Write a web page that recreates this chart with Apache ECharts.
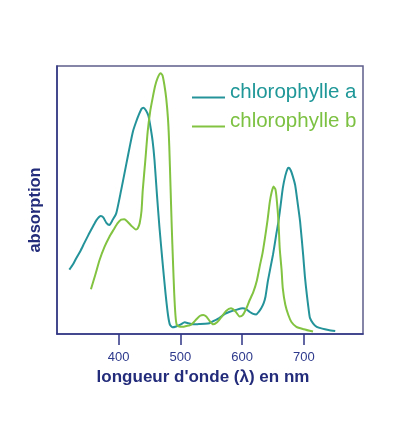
<!DOCTYPE html>
<html>
<head>
<meta charset="utf-8">
<script src="https://cdn.jsdelivr.net/npm/echarts@6/dist/echarts.min.js"></script>
<style>
  html, body { margin: 0; padding: 0; background: #fff; }
  #chart { width: 400px; height: 426px; }
</style>
</head>
<body>
<div id="chart"></div>
<script>
// wavelength (nm) / absorption (relative, 0-100)
const chlAWavelengths = [320, 326, 331, 338, 344, 351, 358, 364, 371, 375, 380, 385, 390, 396, 404, 412, 418, 423, 428, 433, 437, 440, 444, 448, 451, 455, 458, 462, 466, 471, 476, 480, 483, 487, 493, 500, 507, 513, 520, 530, 540, 547, 555, 563, 572, 580, 590, 601, 607, 612, 618, 623, 627, 631, 635, 638, 642, 650, 656, 659, 663, 666, 670, 674, 676, 679, 682, 686, 690, 694, 699, 702, 705, 708, 710, 715, 721, 730, 740, 751]
const chlAValues = [24, 26, 28.2, 31, 33.8, 37, 40, 42.5, 44, 43.5, 41.5, 40.7, 42.5, 45, 53.7, 63, 70, 75.5, 79, 82, 84, 84.4, 83.5, 81.5, 78, 72, 65, 52, 40, 27, 15, 7, 3.5, 2.5, 2.8, 3.5, 4.4, 4, 3.6, 3.7, 3.8, 4, 5, 5.9, 7.5, 8.3, 9, 9.6, 9.2, 8.3, 7.5, 7.3, 8.3, 9.6, 11.5, 14, 20, 29.5, 38, 42, 49, 54.4, 59, 61.8, 62, 61, 59, 55.6, 49, 42, 29.5, 21, 14.6, 9, 6, 4, 2.7, 2, 1.5, 1.1]

const chlBWavelengths = [355, 362, 369, 377, 385, 392, 398, 404, 409, 414, 420, 428, 431, 434, 437, 439, 443, 447, 451, 455, 459, 463, 468, 471, 474, 477, 480, 482, 484, 486, 488, 490, 492, 494, 498, 504, 510, 515, 520, 526, 532, 537, 542, 547, 553, 560, 567, 574, 582, 589, 596, 601, 607, 612, 618, 624, 629, 633, 637, 641, 645, 648, 651, 654, 656, 659, 661, 664, 666, 670, 675, 680, 688, 700, 715]
const chlBValues = [16.7, 22, 27.6, 32.5, 36.3, 39, 41.3, 42.7, 42.8, 42, 40.5, 39, 39.5, 41.3, 46, 53.7, 64.3, 75.5, 83, 88, 92.5, 95.5, 97.3, 96.5, 93, 88, 80, 70, 55, 40, 27, 15.2, 7, 3.5, 2.8, 2.7, 3, 3.2, 4, 5.5, 6.8, 7.1, 6.5, 5, 3.6, 4.5, 6.5, 8.6, 9.6, 8.5, 6.5, 7, 9.6, 12.5, 15.5, 20, 25.7, 30, 35.7, 42, 49.4, 53, 55, 54, 50.6, 42, 32, 24, 17, 11, 7.1, 4.5, 2.7, 1.8, 0.9]

const xTickValues = [400, 500, 600, 700]
const seriesNames = ['chlorophylle a', 'chlorophylle b']

const colorA = '#24939a'
const colorB = '#82c341'
const navy = '#2f3585'

const zip = (xs, ys) => xs.map((x, i) => [x, ys[i]])

// legend swatch: a line sitting below the text middle (tiny invisible dot keeps the top of the box)
const legendIcon = 'path://M0,0H0.01V0.01H0Z M0,10H33V12H0Z'

const chart = echarts.init(document.getElementById('chart'))

chart.setOption({
  animation: false,
  backgroundColor: '#fff',
  grid: {
    left: 57,
    top: 66,
    right: 37,
    bottom: 92,
    show: true,
    borderColor: '#5e5e8c',
    borderWidth: 1.5
  },
  legend: {
    orient: 'vertical',
    left: 187,
    top: 77,
    itemWidth: 33,
    itemHeight: 12,
    itemGap: 8,
    icon: legendIcon,
    textStyle: {
      fontFamily: 'Liberation Sans, Arial, sans-serif',
      fontSize: 20.5
    },
    data: [
      { name: seriesNames[0], textStyle: { color: '#1f9798' } },
      { name: seriesNames[1], textStyle: { color: '#7cc142' } }
    ]
  },
  xAxis: {
    type: 'value',
    min: 300,
    max: 796,
    name: "longueur d'onde (λ) en nm",
    nameLocation: 'middle',
    nameGap: 34,
    nameTextStyle: {
      color: '#232c7a',
      fontFamily: 'Liberation Sans, Arial, sans-serif',
      fontWeight: 'bold',
      fontSize: 17,
      padding: [0, 14, 0, 0]
    },
    axisLine: { lineStyle: { color: navy, width: 1.5 } },
    axisTick: {
      show: true,
      inside: false,
      length: 11,
      customValues: xTickValues,
      lineStyle: { color: navy, width: 1.5 }
    },
    axisLabel: {
      customValues: xTickValues,
      margin: 17,
      color: '#2e3a8c',
      fontFamily: 'Liberation Sans, Arial, sans-serif',
      fontSize: 13
    },
    splitLine: { show: false }
  },
  yAxis: {
    type: 'value',
    min: 0,
    max: 100,
    name: 'absorption',
    nameLocation: 'middle',
    nameGap: 13,
    nameTextStyle: {
      color: '#232c7a',
      fontFamily: 'Liberation Sans, Arial, sans-serif',
      fontWeight: 'bold',
      fontSize: 16.5,
      padding: [0, 20, 0, 0]
    },
    axisLine: { show: true, lineStyle: { color: navy, width: 1.5 } },
    axisTick: { show: false },
    axisLabel: { show: false },
    splitLine: { show: false }
  },
  series: [
    {
      name: seriesNames[0],
      type: 'line',
      data: zip(chlAWavelengths, chlAValues),
      showSymbol: false,
      smooth: 0.2,
      color: colorA,
      lineStyle: { width: 2, color: colorA }
    },
    {
      name: seriesNames[1],
      type: 'line',
      data: zip(chlBWavelengths, chlBValues),
      showSymbol: false,
      smooth: 0.2,
      color: colorB,
      lineStyle: { width: 2, color: colorB }
    }
  ]
})
</script>
</body>
</html>
